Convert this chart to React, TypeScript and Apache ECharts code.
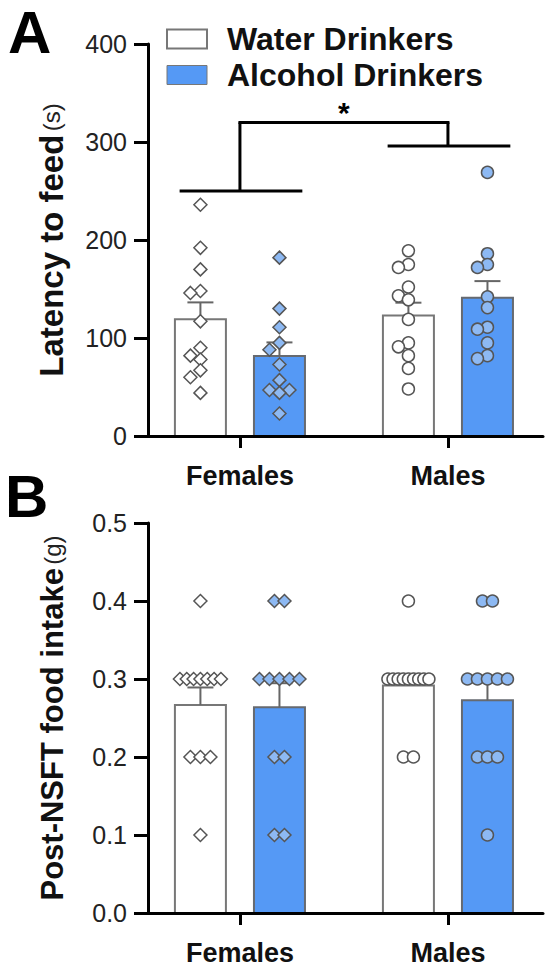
import React, { useEffect, useRef } from "react";
import * as echarts from "echarts";

// ---------- data ----------
const groups = ["Females", "Males"];
const drinks = ["Water Drinkers", "Alcohol Drinkers"];

// Panel A: latency to feed (s)
const latencyFemaleWater = [236, 192, 170, 148, 146, 117, 90, 82, 78, 67, 60, 44];
const latencyFemaleAlcohol = [182, 130, 111, 95, 88, 73, 57, 47, 47, 44, 23];
const latencyMaleWater = [189, 175, 172, 152, 143, 139, 119, 95, 91, 82, 69, 48];
const latencyMaleAlcohol = [269, 186, 175, 172, 142, 131, 111, 109, 95, 82, 79];

// Panel B: post-NSFT food intake (g)
const intakeFemaleWater = [0.4, 0.3, 0.3, 0.3, 0.3, 0.3, 0.3, 0.3, 0.2, 0.2, 0.2, 0.1];
const intakeFemaleAlcohol = [0.4, 0.4, 0.3, 0.3, 0.3, 0.3, 0.3, 0.2, 0.2, 0.1, 0.1];
const intakeMaleWater = [0.4, 0.3, 0.3, 0.3, 0.3, 0.3, 0.3, 0.3, 0.3, 0.3, 0.2, 0.2];
const intakeMaleAlcohol = [0.4, 0.4, 0.3, 0.3, 0.3, 0.3, 0.3, 0.2, 0.2, 0.2, 0.1];

// significance bracket levels (s): Females bar, Males bar, joining bar
const bracketLevels = [250, 296, 320];
const significanceLabel = "*";

// axes
const latencyAxis = { min: 0, max: 400, interval: 100 };
const intakeAxis = { min: 0, max: 0.5, interval: 0.1 };

// ---------- layout / style ----------
const FONT = "'Liberation Sans', Arial, Helvetica, sans-serif";
const X_MIN = 0.558;
const X_MAX = 2.457;
const GRID_LEFT = 148;
const GRID_WIDTH = 395;
const PX_PER_X = GRID_WIDTH / (X_MAX - X_MIN);
const DRINK_DX = [-0.19, 0.19];
const BAR_HALF = 25.5 / PX_PER_X;
const CAP_HALF = 13 / PX_PER_X;
const BRACKET_HALF = [-0.29, 0.3];
const BAR_FILL = ["#ffffff", "#5599F5"];
const BAR_STROKE = ["#777777", "#666a70"];
const DOT_FILL = ["#ffffff", "#8DB9F3"];

const panels = [
  {
    top: 44,
    height: 392,
    axis: latencyAxis,
    packed: false,
    data: [
      [latencyFemaleWater, latencyFemaleAlcohol],
      [latencyMaleWater, latencyMaleAlcohol],
    ],
    name: "{b|Latency to feed} {r|(s)}",
    nameSize: 33,
    nameGap: 80,
    decimals: 0,
  },
  {
    top: 523,
    height: 390,
    axis: intakeAxis,
    packed: true,
    data: [
      [intakeFemaleWater, intakeFemaleAlcohol],
      [intakeMaleWater, intakeMaleAlcohol],
    ],
    name: "{b|Post-NSFT food intake} {r|(g)}",
    nameSize: 31,
    nameGap: 80,
    decimals: 1,
  },
];

function mean(a: number[]) {
  return a.reduce((s, v) => s + v, 0) / a.length;
}
function sem(a: number[]) {
  const m = mean(a);
  const v = a.reduce((s, x) => s + (x - m) * (x - m), 0) / (a.length - 1);
  return Math.sqrt(v) / Math.sqrt(a.length);
}

// beeswarm offsets in pixels
function swarmOffsets(values: number[], pxPerY: number, packed: boolean): number[] {
  const out = new Array(values.length).fill(0);
  if (packed) {
    const byVal = new Map<number, number[]>();
    values.forEach((v, i) => {
      if (!byVal.has(v)) byVal.set(v, []);
      byVal.get(v)!.push(i);
    });
    byVal.forEach((idx) => {
      const k = idx.length;
      const sp = k > 1 ? Math.min(10, 41 / (k - 1)) : 0;
      idx.forEach((i, j) => (out[i] = (j - (k - 1) / 2) * sp));
    });
    return out;
  }
  const order = values.map((_, i) => i).sort((a, b) => values[b] - values[a]);
  const placed: [number, number][] = [];
  const STEP = 10;
  const MIN_D = 10;
  for (const i of order) {
    const y = values[i] * pxPerY;
    let best = 0;
    let bestD = -1;
    for (const c of [0, -1, 1, -2, 2, -3, 3]) {
      const x = c * STEP;
      let d = Infinity;
      for (const [px, py] of placed) d = Math.min(d, Math.hypot(px - x, py - y));
      if (d >= MIN_D) {
        best = x;
        bestD = d;
        break;
      }
      if (d > bestD) {
        bestD = d;
        best = x;
      }
    }
    placed.push([best, y]);
    out[i] = best;
  }
  return out;
}

function buildOption() {
  const grid: any[] = [];
  const xAxis: any[] = [];
  const yAxis: any[] = [];
  const series: any[] = [];

  panels.forEach((p, pi) => {
    grid.push({ left: GRID_LEFT, top: p.top, width: GRID_WIDTH, height: p.height, containLabel: false });
    xAxis.push({
      type: "value",
      gridIndex: pi,
      min: X_MIN,
      max: X_MAX,
      z: 10,
      splitLine: { show: false },
      axisLine: { show: true, onZero: false, lineStyle: { color: "#000", width: 3 } },
      axisTick: { show: true, customValues: [1, 2], length: 12, lineStyle: { color: "#000", width: 3 } },
      axisLabel: {
        show: true,
        customValues: [1, 2],
        formatter: (v: number) => groups[Math.round(v) - 1] ?? "",
        fontFamily: FONT,
        fontSize: 27,
        fontWeight: "bold",
        color: "#111",
        margin: 26,
      },
    });
    yAxis.push({
      type: "value",
      gridIndex: pi,
      min: p.axis.min,
      max: p.axis.max,
      interval: p.axis.interval,
      z: 10,
      splitLine: { show: false },
      axisLine: { show: true, lineStyle: { color: "#000", width: 3 } },
      axisTick: { show: true, length: 14, lineStyle: { color: "#000", width: 3 } },
      axisLabel: {
        fontFamily: FONT,
        fontSize: 25,
        color: "#222",
        margin: 21,
        formatter: (v: number) => v.toFixed(p.decimals),
      },
      name: p.name,
      nameLocation: "middle",
      nameGap: p.nameGap,
      nameTextStyle: {
        fontFamily: FONT,
        rich: {
          b: { fontFamily: FONT, fontSize: p.nameSize, fontWeight: "bold", color: "#111" },
          r: { fontFamily: FONT, fontSize: 24, color: "#222" },
        },
      },
    });

    const pxPerY = p.height / (p.axis.max - p.axis.min);

    drinks.forEach((dn, di) => {
      // bars + error bars
      const barData = groups.map((_, gi) => {
        const vals = p.data[gi][di];
        return [gi + 1 + DRINK_DX[di], mean(vals), sem(vals)];
      });
      series.push({
        type: "custom",
        name: dn,
        xAxisIndex: pi,
        yAxisIndex: pi,
        z: 2,
        encode: { x: 0, y: 1 },
        itemStyle: { color: BAR_FILL[di] },
        data: barData,
        renderItem: (params: any, api: any) => {
          const x = api.value(0);
          const m = api.value(1);
          const s = api.value(2);
          const tl = api.coord([x - BAR_HALF, m]);
          const br = api.coord([x + BAR_HALF, 0]);
          const top = api.coord([x, m + s]);
          const cl = api.coord([x - CAP_HALF, m + s]);
          const cr = api.coord([x + CAP_HALF, m + s]);
          return {
            type: "group",
            children: [
              {
                type: "rect",
                shape: { x: tl[0], y: tl[1], width: br[0] - tl[0], height: br[1] - tl[1] },
                style: { fill: BAR_FILL[di], stroke: BAR_STROKE[di], lineWidth: 2 },
              },
              {
                type: "line",
                shape: { x1: top[0], y1: tl[1], x2: top[0], y2: top[1] },
                style: { stroke: "#666", lineWidth: 2 },
              },
              {
                type: "line",
                shape: { x1: cl[0], y1: cl[1], x2: cr[0], y2: cr[1] },
                style: { stroke: "#666", lineWidth: 2 },
              },
            ],
          };
        },
      });

      // individual dots
      const dots: any[] = [];
      groups.forEach((_, gi) => {
        const vals = p.data[gi][di];
        const off = swarmOffsets(vals, pxPerY, p.packed);
        vals.forEach((v, i) => {
          dots.push({
            value: [gi + 1 + DRINK_DX[di] + off[i] / PX_PER_X, v],
            symbol: gi === 0 ? "diamond" : "circle",
            symbolSize: gi === 0 ? 13 : 12,
          });
        });
      });
      series.push({
        type: "scatter",
        name: dn,
        xAxisIndex: pi,
        yAxisIndex: pi,
        z: 3,
        itemStyle: { color: DOT_FILL[di], borderColor: "#555", borderWidth: 1.5, opacity: 1 },
        data: dots,
      });
    });
  });

  // significance bracket on panel A
  series.push({
    type: "custom",
    xAxisIndex: 0,
    yAxisIndex: 0,
    z: 4,
    encode: { x: 0, y: 1 },
    data: [[1.5, bracketLevels[2]]],
    renderItem: (params: any, api: any) => {
      const lw = { stroke: "#000", lineWidth: 3 };
      const children: any[] = [];
      [1, 2].forEach((g, gi) => {
        const a = api.coord([g + BRACKET_HALF[0], bracketLevels[gi]]);
        const b = api.coord([g + BRACKET_HALF[1], bracketLevels[gi]]);
        const up = api.coord([g, bracketLevels[2]]);
        children.push({ type: "line", shape: { x1: a[0], y1: a[1], x2: b[0], y2: b[1] }, style: lw });
        children.push({ type: "line", shape: { x1: up[0], y1: a[1], x2: up[0], y2: up[1] }, style: lw });
      });
      const l = api.coord([1, bracketLevels[2]]);
      const r = api.coord([2, bracketLevels[2]]);
      children.push({ type: "line", shape: { x1: l[0] - 1.5, y1: l[1], x2: r[0] + 1.5, y2: r[1] }, style: lw });
      const mid = api.coord([api.value(0), bracketLevels[2]]);
      children.push({
        type: "text",
        x: mid[0],
        y: mid[1] + 5,
        style: {
          text: significanceLabel,
          fill: "#000",
          font: `bold 30px ${FONT}`,
          align: "center",
          verticalAlign: "bottom",
        },
      });
      return { type: "group", children };
    },
  });

  return {
    animation: false,
    backgroundColor: "#fff",
    textStyle: { fontFamily: FONT },
    grid,
    xAxis,
    yAxis,
    series,
    legend: {
      orient: "vertical",
      left: 161,
      top: 18,
      itemWidth: 40,
      itemHeight: 19,
      itemGap: 4,
      selectedMode: false,
      icon: "rect",
      textStyle: {
        fontFamily: FONT,
        fontSize: 32,
        fontWeight: "bold",
        color: "#111",
        padding: [0, 0, 0, 15],
      },
      data: [
        { name: drinks[0], itemStyle: { color: BAR_FILL[0], borderColor: "#777", borderWidth: 2 } },
        { name: drinks[1], itemStyle: { color: BAR_FILL[1], borderColor: "#777", borderWidth: 1 } },
      ],
    },
    graphic: [
      {
        type: "text",
        left: 8,
        top: 2,
        style: { text: "A", font: `bold 60px ${FONT}`, fill: "#000" },
      },
      {
        type: "text",
        left: 5,
        top: 466,
        style: { text: "B", font: `bold 60px ${FONT}`, fill: "#000" },
      },
    ],
  };
}

export default function App() {
  const ref = useRef<HTMLDivElement>(null);
  useEffect(() => {
    document.body.style.margin = "0";
    if (!ref.current) return;
    const chart = echarts.init(ref.current, undefined, { renderer: "svg" });
    chart.setOption(buildOption() as any);
    return () => chart.dispose();
  }, []);
  return <div ref={ref} style={{ width: 550, height: 971 }} />;
}
